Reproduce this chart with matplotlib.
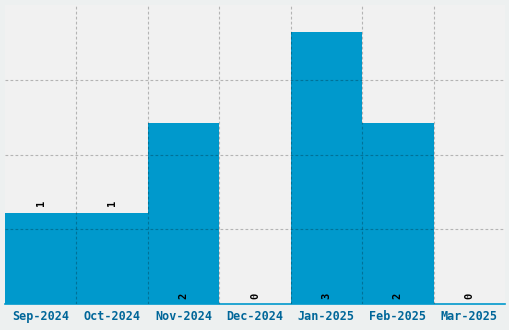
import matplotlib.pyplot as plt
import numpy as np

# ============================= DATA =============================
months = ["Sep-2024", "Oct-2024", "Nov-2024", "Dec-2024", "Jan-2025", "Feb-2025", "Mar-2025"]
counts = [1, 1, 2, 0, 3, 2, 0]

# ============================= PLOT =============================
fig = plt.figure(figsize=(5.1, 3.3), dpi=100, facecolor="#edf0f0")
ax = fig.add_axes([5 / 510, 26 / 330, 500 / 510, 299 / 330])
ax.set_facecolor("#f1f1f1")

x = np.arange(len(months))
ax.bar(x, counts, width=1.0, color="#0099cc", zorder=2)

ax.set_xlim(-0.5, len(months) - 0.5)
ax.set_ylim(0, 3.3)

# grid at bar boundaries, drawn on top of bars
grid_kw = dict(color="black", alpha=0.25, linestyle=(0, (2.5, 2)), linewidth=0.8, zorder=3)
for b in np.arange(0.5, len(months) - 0.5, 1.0):
    ax.axvline(b, **grid_kw)
for g in [0.825, 1.65, 2.475]:
    ax.axhline(g, **grid_kw)

ax.set_xticks(x)
ax.set_xticklabels(months, family="DejaVu Sans Mono", fontweight="bold", fontsize=8.5, color="#006699")
ax.tick_params(axis="x", length=0, pad=4)
ax.set_yticks([])

for s in ["top", "left", "right"]:
    ax.spines[s].set_visible(False)
ax.spines["bottom"].set_color("#0099cc")
ax.spines["bottom"].set_linewidth(1.2)

for i, v in enumerate(counts):
    y = v + 0.08 if v == 1 else 0.05
    ax.text(i, y, str(v), rotation=90, ha="center", va="bottom",
            family="DejaVu Sans Mono", fontweight="bold", fontsize=7.5, color="black", zorder=4)

plt.savefig("out.png", dpi=100, facecolor=fig.get_facecolor())
